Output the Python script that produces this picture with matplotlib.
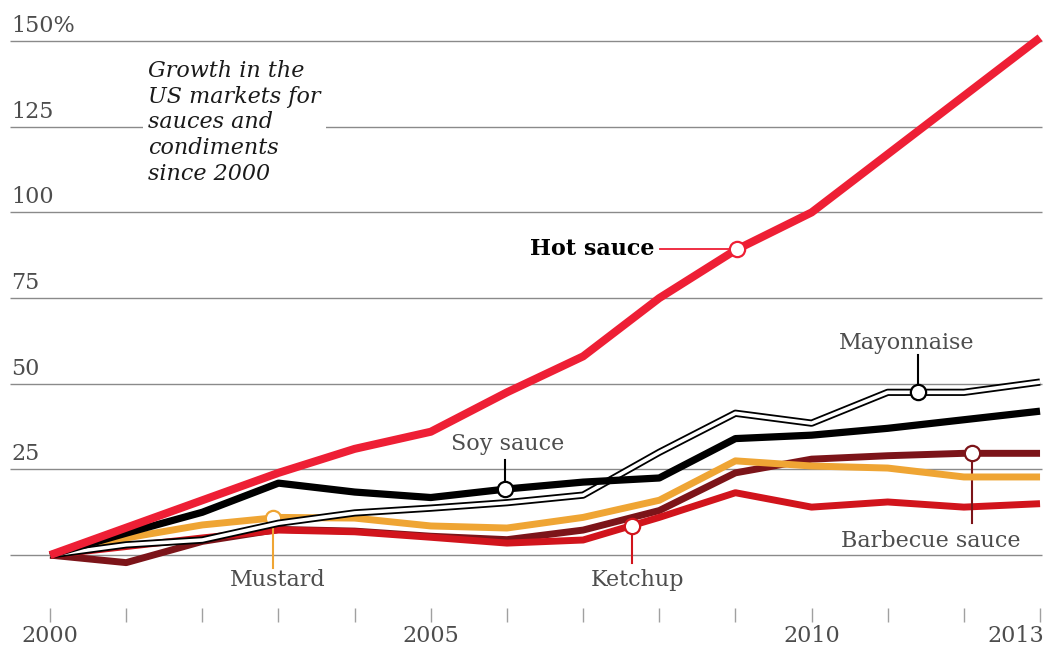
import numpy as np
import matplotlib.pyplot as plt

years = np.arange(2000, 2014)

hot_sauce = [0, 8, 16, 24, 31, 36, 47.5, 58, 75, 89, 100, 117, 134, 151]
soy_sauce = [0, 6.4, 12.5, 21, 18.4, 16.8, 19.3, 21.3, 22.5, 34, 35, 37, 39.5, 42]
mayonnaise = [0, 3, 4.4, 9.3, 12.3, 13.7, 15.3, 17.5, 30, 41.4, 38.5, 47.5, 47.5, 50.5]
mustard = [0, 5, 8.8, 11, 10.8, 8.5, 7.9, 11, 16, 27.5, 26, 25.4, 22.8, 22.8]
ketchup = [0, 2.5, 5, 7.3, 6.8, 5.2, 3.5, 4.4, 11, 18.2, 14, 15.5, 14, 15]
barbecue = [0, -2.2, 4, 7.5, 7, 5.5, 4.5, 7.3, 13, 24, 28, 29, 29.7, 29.7]

grid_values = [0, 25, 50, 75, 100, 125, 150]
grid_labels = ["", "25", "50", "75", "100", "125", "150%"]
year_labels = {2000: "2000", 2005: "2005", 2010: "2010", 2013: "2013"}

# colours
c_hot = "#ee1f35"
c_ketchup = "#d1141c"
c_bbq = "#7c1419"
c_mustard = "#efa534"
c_grid = "#8a8a8a"
c_text = "#4d4d4d"

serif = "DejaVu Serif"
fs = 16

fig = plt.figure(figsize=(10.51, 6.5), dpi=100)
ax = fig.add_axes([0, 0, 1, 1])
ax.set_xlim(1999.343, 2013.144)
ax.set_ylim(-27.7, 162)
ax.axis("off")

# gridlines and y labels
ax.hlines(grid_values, 1999.47, 2013.03, color=c_grid, lw=1.0, zorder=1)
for v, lab in zip(grid_values, grid_labels):
    if lab:
        ax.text(1999.49, v + 1.2, lab, ha="left", va="bottom",
                fontsize=fs, family=serif, color=c_text)

# x ticks
ax.vlines(years, -19.5, -15.5, color="#a0a0a0", lw=1.0)
for yr, lab in year_labels.items():
    ha = "right" if yr == 2013 else "center"
    xx = yr + 0.06 if yr == 2013 else yr
    ax.text(xx, -23.6, lab, ha=ha, va="center", fontsize=fs,
            family=serif, color=c_text)

# lines
lw = 5.0
ax.plot(years, barbecue, color=c_bbq, lw=lw, solid_capstyle="butt", zorder=3)
ax.plot(years, ketchup, color=c_ketchup, lw=lw, solid_capstyle="butt", zorder=4)
ax.plot(years, mustard, color=c_mustard, lw=lw, solid_capstyle="butt", zorder=5)
ax.plot(years, mayonnaise, color="black", lw=5.2, solid_capstyle="butt", zorder=6)
ax.plot(years, mayonnaise, color="white", lw=2.6, solid_capstyle="butt", zorder=6)
ax.plot(years, soy_sauce, color="black", lw=5.2, solid_capstyle="butt", zorder=7)
ax.plot(years, hot_sauce, color=c_hot, lw=5.8, solid_capstyle="butt", zorder=8)


def marker(x, series, color, zo):
    y = np.interp(x, years, series)
    ax.plot(x, y, "o", ms=11, mfc="white", mec=color, mew=1.6, zorder=zo + 0.5)
    return y


# title
ax.text(2001.29, 144.5, "Growth in the\nUS markets for\nsauces and\ncondiments\nsince 2000",
        ha="left", va="top", fontsize=fs, style="italic", family=serif,
        color="#1a1a1a", linespacing=1.22, zorder=2,
        bbox=dict(facecolor="white", edgecolor="none", pad=4))

# Hot sauce
y = marker(2009.02, hot_sauce, c_hot, 8)
ax.plot([2008.01, 2009.0], [y, y], color=c_hot, lw=1.3, zorder=8)
ax.text(2007.94, y, "Hot sauce", ha="right", va="center", fontsize=fs,
        weight="bold", family=serif, color="black")

# Soy sauce
y = marker(2005.97, soy_sauce, "black", 7)
ax.plot([2005.97, 2005.97], [y, 27.7], color="black", lw=1.5, zorder=7)
ax.text(2006.01, 32.3, "Soy sauce", ha="center", va="center", fontsize=fs,
        family=serif, color=c_text)

# Mayonnaise
y = marker(2011.40, mayonnaise, "black", 7)
ax.plot([2011.40, 2011.40], [y, 58.4], color="black", lw=1.5, zorder=7)
ax.text(2011.25, 61.8, "Mayonnaise", ha="center", va="center", fontsize=fs,
        family=serif, color=c_text)

# Barbecue sauce
y = marker(2012.11, barbecue, c_bbq, 4)
ax.plot([2012.11, 2012.11], [y, 9.3], color=c_bbq, lw=1.5, zorder=4)
ax.text(2011.56, 4.2, "Barbecue sauce", ha="center", va="center", fontsize=fs,
        family=serif, color=c_text)

# Ketchup
y = marker(2007.64, ketchup, c_ketchup, 4)
ax.plot([2007.64, 2007.64], [y, -2.3], color=c_ketchup, lw=1.5, zorder=4)
ax.text(2007.72, -7.2, "Ketchup", ha="center", va="center", fontsize=fs,
        family=serif, color=c_text)

# Mustard
y = marker(2002.93, mustard, c_mustard, 5)
ax.plot([2002.93, 2002.93], [y, -3.8], color=c_mustard, lw=1.5, zorder=5)
ax.text(2002.99, -7.3, "Mustard", ha="center", va="center", fontsize=fs,
        family=serif, color=c_text)

fig.savefig("out.png", dpi=100, facecolor="white")
